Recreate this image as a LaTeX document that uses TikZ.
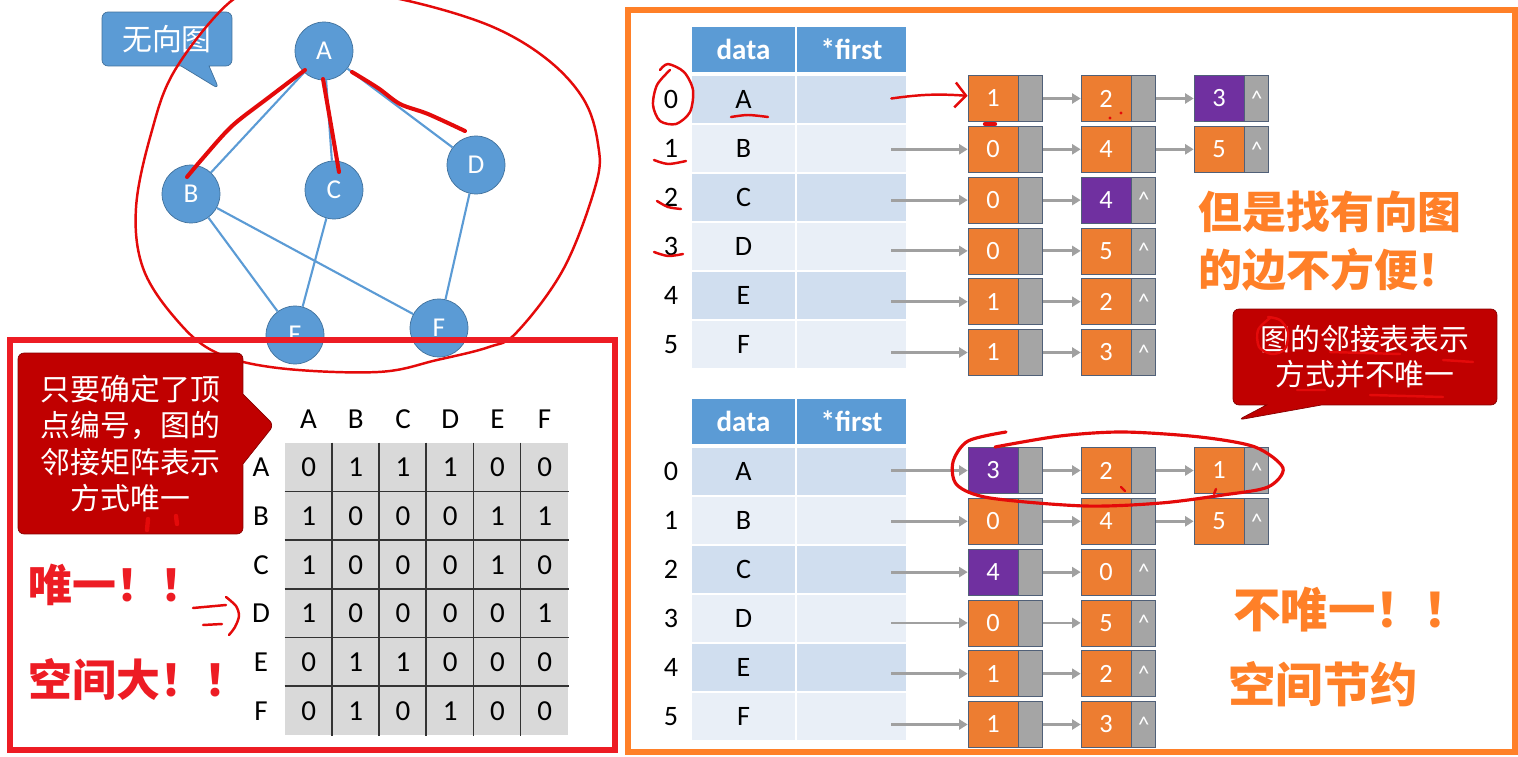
\documentclass[tikz,border=0pt]{standalone}
\usepackage{fontspec}
\setmainfont{Carlito}
\newfontfamily\cjk{Noto Sans CJK SC}
\usetikzlibrary{positioning,arrows.meta,calc,shapes.callouts}

\definecolor{gblue}{RGB}{91,155,213}
\definecolor{gline}{RGB}{65,113,156}
\definecolor{boxred}{RGB}{237,28,36}
\definecolor{penred}{RGB}{228,10,10}
\definecolor{tipred}{RGB}{192,0,0}
\definecolor{frameorange}{RGB}{255,128,40}
\definecolor{vorange}{RGB}{237,125,49}
\definecolor{vpurple}{RGB}{112,48,160}
\definecolor{ptrgray}{RGB}{165,165,165}
\definecolor{nodeline}{RGB}{80,96,120}
\definecolor{arrgray}{RGB}{160,160,160}
\definecolor{rowa}{RGB}{208,222,239}
\definecolor{rowb}{RGB}{233,239,247}
\definecolor{cellgray}{RGB}{217,217,217}

\tikzset{
  vertex/.style={circle, draw=gline, fill=gblue, text=white, minimum size=1.16cm, inner sep=0pt, font=\fontsize{15.5}{15.5}\selectfont},
  gedge/.style={draw=gblue, line width=1.2pt},
  pen/.style={draw=penred, line width=1.4pt, line cap=round, line join=round},
  bubble/.style={rectangle callout, rounded corners=0.12cm, text=white, align=center, inner sep=0pt},
  mcell/.style={fill=cellgray, minimum width=0.944cm, minimum height=0.974cm, inner sep=0pt, font=\fontsize{16.5}{16.5}\selectfont},
  mlabel/.style={font=\fontsize{16.5}{16.5}\selectfont},
  thead/.style={fill=gblue, text=white, minimum height=0.9cm, inner sep=0pt, font=\fontsize{16.5}{16.5}\selectfont\bfseries},
  tcell/.style={minimum height=0.94cm, inner sep=0pt, font=\fontsize{16}{16}\selectfont},
  val/.style={draw=nodeline, text=white, minimum width=1cm, minimum height=0.92cm, inner sep=0pt, font=\fontsize{15}{15}\selectfont},
  ptr/.style={draw=nodeline, fill=ptrgray, minimum width=0.48cm, minimum height=0.92cm, inner sep=0pt},
  hat/.style={text=white, inner sep=0pt, font=\fontsize{13}{13}\selectfont},
  arr/.style={draw=arrgray, line width=1.6pt, -{Triangle[length=0.17cm,width=0.2cm]}},
  bigred/.style={text=boxred, anchor=west, inner sep=0pt, font=\cjk\bfseries\fontsize{25}{25}\selectfont},
  bigorange/.style={text=frameorange, anchor=west, align=left, inner sep=0pt},
}

\begin{document}
\begin{tikzpicture}[x=0.02cm, y=-0.02cm]
\path[use as bounding box, fill=white] (0,0) rectangle (1518,757);

\node[vertex] (A) at (324,51) {A};
\node[vertex] (B) at (191,194) {B};
\node[vertex] (C) at (334,190) {C};
\node[vertex] (D) at (476,165) {D};
\node[vertex] (E) at (295,335) {E};
\node[vertex] (F) at (439,328) {F};
\draw[gedge] (A) -- (B) (A) -- (C) (A) -- (D) (B) -- (E) (B) -- (F) (C) -- (E) (D) -- (F);

\node[bubble, fill=gblue, draw=gline, callout absolute pointer={(219,89)}, callout pointer width=0.56cm,
  minimum width=2.6cm, minimum height=1.08cm, font=\cjk\fontsize{17}{17}\selectfont] (tag) at (167,39) {无向图};

\draw[pen, line width=2.3pt] plot[smooth] coordinates {(305,70) (268,98) (232,126) (203,158) (187,177)};
\draw[pen, line width=2.3pt] plot[smooth] coordinates {(323,79) (331,125) (339,172)};
\draw[pen, line width=2.3pt] plot[smooth] coordinates {(352,72) (378,88) (400,104) (428,114) (465,131)};
\draw[pen] plot[smooth cycle, tension=0.6] coordinates {(230,2) (175,70) (151,134) (136,208) (143,268) (175,318)
  (215,352) (278,368) (378,372) (437,360) (489,347) (517,332) (564,268) (596,184) (598,144) (584,100)
  (548,60) (493,27) (417,3) (350,-8) (270,-8)};

\draw[boxred, line width=3.2pt] (10,340) rectangle (615,750);

\node[bubble, fill=tipred, draw=tipred!70!black, callout absolute pointer={(274,425)}, callout pointer width=1.4cm,
  minimum width=4.5cm, minimum height=3.62cm, font=\cjk\fontsize{17}{20.7}\selectfont] (unique) at (130.5,443.5)
  {只要确定了顶\\点编号，图的\\邻接矩阵表示\\方式唯一};
\draw[pen, line width=2.5pt] (148,519) -- (147,530) (176,516) -- (177,524);

\node[bigred] (once) at (28,585) {唯一！！};
\node[bigred] (space) at (28,680) {空间大！！};
\draw[pen] (193,608) -- (226,605) (203,625) -- (222,624);
\draw[pen] plot[smooth] coordinates {(226,597) (236,606) (239,616) (235,627) (229,635)};

\foreach \ch [count=\c from 0] in {A,...,F} {
  \node[mlabel] (c\ch) at (308.6+47.2*\c,419) {\ch};
  \node[mlabel] (r\ch) at (261,467.35+48.7*\c) {\ch};
}
\foreach \row [count=\r from 0] in {{0,1,1,1,0,0},{1,0,0,0,1,1},{1,0,0,0,1,0},{1,0,0,0,0,1},{0,1,1,0,0,0},{0,1,0,1,0,0}}
  \foreach \v [count=\c from 0] in \row
    \node[mcell] (m\r\c) at (308.6+47.2*\c,467.35+48.7*\r) {\v};
\foreach \k in {1,...,5} {
  \draw[line width=0.9pt, black!80] (m0\k.north west) -- (m5\k.south west);
  \draw[line width=0.9pt, black!80] (m\k0.north west) -- (m\k5.north east);
}

\draw[frameorange, line width=3.6pt] (628,10) rectangle (1515,752);

\foreach \L/\ty in {t/99.5,u/471.5} {
  \node[thead, minimum width=2.06cm] (hd\L) at (743.5,\ty-50) {data};
  \node[thead, minimum width=2.18cm] (hf\L) at (851.5,\ty-50) {*first};
  \foreach \r/\ch/\fc in {0/A/rowa,1/B/rowb,2/C/rowa,3/D/rowb,4/E/rowa,5/F/rowb} {
    \node[tcell, fill=\fc, minimum width=2.06cm] (d\L\r) at (743.5,\ty+49*\r) {\ch};
    \node[tcell, fill=\fc, minimum width=2.18cm] (f\L\r) at (851.5,\ty+49*\r) {};
    \node[tcell] (i\L\r) at (671,\ty+49*\r) {\r};
  }
}

\foreach \L/\ny/\first/\rows in {
  t/98.5/1/{{1/vorange,2/vorange,3/vpurple},{0/vorange,4/vorange,5/vorange},{0/vorange,4/vpurple},{0/vorange,5/vorange},{1/vorange,2/vorange},{1/vorange,3/vorange}},
  u/470.5/0/{{3/vpurple,2/vorange,1/vorange},{0/vorange,4/vorange,5/vorange},{4/vpurple,0/vorange},{0/vorange,5/vorange},{1/vorange,2/vorange},{1/vorange,3/vorange}}} {
  \foreach \vals [count=\r from 0] in \rows
    \foreach \v/\fc [count=\c from 0] in \vals {
      \node[val, fill=\fc] (v\L\r\c) at (993+113*\c,\ny+50.8*\r) {\v};
      \node[ptr, right=0pt of v\L\r\c] (p\L\r\c) {};
    }
  \foreach \r/\c/\n in {0/0/1,0/1/2,1/0/1,1/1/2,2/0/1,3/0/1,4/0/1,5/0/1}
    \draw[arr] (p\L\r\c) -- (v\L\r\n);
  \foreach \r/\c in {0/2,1/2,2/1,3/1,4/1,5/1}
    \node[hat] (h\L\r) at (p\L\r\c) {\textasciicircum};
  \foreach \r in {\first,...,5}
    \draw[arr] ($(f\L\r.east |- v\L\r0)+(-15,0)$) -- (v\L\r0);
}

\node[bigorange, font=\cjk\bfseries\fontsize{25}{33}\selectfont] (hard) at (1198,241) {但是找有向图\\的边不方便！};
\node[bubble, fill=tipred, draw=tipred!70!black, callout absolute pointer={(1238,420)}, callout pointer width=1.1cm,
  minimum width=5.28cm, minimum height=1.92cm, font=\cjk\fontsize{17}{20}\selectfont] (multi) at (1365,357)
  {图的邻接表表示\\方式并不唯一};
\node[bigorange, font=\cjk\bfseries\fontsize{27}{27}\selectfont] (nonuniq) at (1233,610) {不唯一！！};
\node[bigorange, font=\cjk\bfseries\fontsize{27}{27}\selectfont] (saving) at (1228,684) {空间节约};

\draw[pen] plot[smooth] coordinates {(670,70) (657,85) (653,105) (660,121) (676,124) (690,112) (693,90) (684,72) (668,64) (660,70)};
\draw[pen] plot[smooth] coordinates {(731,117) (748,115) (768,117)};
\draw[pen] plot[smooth] coordinates {(654,160) (668,164) (686,161)};
\draw[pen] plot[smooth] coordinates {(657,201) (668,207) (681,209)};
\draw[pen] plot[smooth] coordinates {(654,252) (668,256) (683,254)};
\draw[pen, -{Straight Barb[length=0.22cm,width=0.5cm]}] ($(ft0.east |- vt00)+(-15,0)$) to[bend left=6] (vt00);
\draw[pen, line width=2.5pt] (985,124) -- (995,124);
\fill[penred] (1110,118) circle (1.6) (1121,113) circle (1.6);
\draw[pen, line width=1.8pt] plot[smooth] coordinates {(995,447) (1060,436) (1123,432) (1200,437) (1255,447) (1283,468)
  (1268,487) (1223,495) (1161,503) (1085,506) (990,498) (957,485) (953,462) (968,441) (1006,432)};
\draw[pen] (1121,487) -- (1125,491) (1216,489) -- (1214,494);
\draw[pen] plot[smooth] coordinates {(1270,318) (1258,330) (1259,347) (1272,354) (1285,349) (1288,332) (1280,320) (1268,317)};
\draw[pen] (1330,352) -- (1400,354) (1443,360) -- (1473,362) (1297,390) -- (1325,390) (1370,395) -- (1443,397);
\end{tikzpicture}
\end{document}
